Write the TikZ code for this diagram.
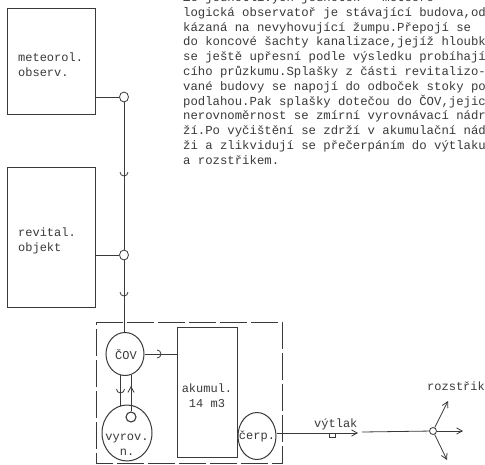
\documentclass[tikz,border=0pt]{standalone}
\usepackage{fontspec}
\setmonofont{Liberation Mono}
\usepackage{tikz}
\usetikzlibrary{arrows.meta,positioning,shapes.geometric,calc}
\definecolor{inkgray}{RGB}{58,58,58}
\begin{document}
\begin{tikzpicture}[
  x=1pt,y=-1pt,
  every node/.style={text=inkgray},
  pipe/.style={draw=inkgray,line width=0.8pt},
  room/.style={draw=inkgray,line width=1pt,minimum width=88pt,inner sep=0pt},
  lab/.style={font=\ttfamily\fontsize{12}{15}\selectfont,align=left,inner sep=0pt},
  manhole/.style={draw=inkgray,fill=white,line width=0.8pt,ellipse,inner sep=0pt,minimum width=9pt,minimum height=10pt},
  tank/.style={draw=inkgray,line width=1pt,ellipse,inner sep=0pt},
  arrow/.style={pipe,-{Straight Barb[length=2mm,width=2.2mm]}},
  cup/.pic={\draw[pipe] (-4,-3) arc[start angle=180,end angle=0,radius=4];}
]
\useasboundingbox (0,0) rectangle (485,464);
\fill[white] (0,0) rectangle (485,464);
% buildings
\node[room,minimum height=106pt,anchor=north west] (meteo) at (7,8) {};
\node[room,minimum height=140pt,anchor=north west] (revit) at (7,167) {};
\node[lab,anchor=west] at (18,65) {meteorol.\\observ.};
\node[lab,anchor=west] at (18,241) {revital.\\objekt};
\node[manhole] (mh1) at (124,97) {};
\node[manhole] (mh2) at (124,255) {};
% treatment plant
\draw[inkgray,line width=0.9pt,dash pattern=on 27pt off 4pt] (96,322) -- (282,322) -- (282,463) -- (96,463) -- cycle;
\node[draw=inkgray,line width=0.9pt,minimum width=60pt,minimum height=130pt,inner sep=0pt] (akum) at (207,392) {};
\node[lab,align=center] at (207,396) {akumul.\\14 m3};
\node[tank,minimum width=38pt,minimum height=43pt] (cov) at (125,354) {};
\node[lab] at (126,355) {ČOV};
\node[tank,minimum width=50pt,minimum height=56pt] (vyrov) at (127,433) {};
\node[lab,align=center] at (127,445) {vyrov.\\n.};
\node[tank,minimum width=38pt,minimum height=47pt] (cerp) at (257,436) {};
\node[lab] at (257,436) {čerp.};
\node[manhole,line width=1.1pt,minimum width=10pt] (float) at (131,417) {};
% field
\node[manhole,minimum width=7pt,minimum height=7pt] (spray) at (433,431) {};
\node[lab,anchor=base west] at (427,390) {rozstřik};
\node[lab,anchor=base west] at (314,427) {výtlak};
\node[lab,anchor=north west,font=\ttfamily\fontsize{12.3}{14.77}\selectfont] (note) at (183,-7.5) {Ze jednotlivých jednotek - meteoro-\\logická observatoř je stávající budova,od\\kázaná na nevyhovující žumpu.Přepojí se\\do koncové šachty kanalizace,jejíž hloubk\\se ještě upřesní podle výsledku probíhají\\cího průzkumu.Splašky z části revitalizo-\\vané budovy se napojí do odboček stoky po\\podlahou.Pak splašky dotečou do ČOV,jejic\\nerovnoměrnost se zmírní vyrovnávací nádr\\ží.Po vyčištění se zdrží v akumulační nád\\ži a zlikvidují se přečerpáním do výtlaku\\a rozstřikem.};
\coordinate (covtop) at (124,333);
\coordinate (outend) at (358,433);
\coordinate (linestart) at (362,432);
\coordinate (sprayup) at (448,401);
\coordinate (sprayright) at (463,431);
\coordinate (spraydown) at (447,460);
% connectors
\draw[pipe] (meteo.east |- mh1) -- (mh1);
\draw[pipe] (revit.east |- mh2) -- (mh2);
\draw[pipe] (mh1) -- (mh2);
\draw[pipe] (mh2) -- (covtop);
\draw[pipe] (cov.east) -- (akum.west |- cov.east);
\draw[pipe] (120.5,375) -- (120.5,406);
\draw[arrow] (float) -- (131,386);
\draw[pipe] (131,388) -- (131,375);
\draw[arrow] (cerp.east |- outend) -- (outend);
\draw[pipe] (linestart) -- (spray);
\draw[arrow] (spray) -- (sprayup);
\draw[arrow] (spray) -- (sprayright);
\draw[arrow] (spray) -- (spraydown);
% joints
\pic at (124,175) {cup};
\pic at (124,295) {cup};
\pic at (120.5,392) {cup};
\pic[rotate=90] at (160,354) {cup};
\draw[pipe] (329,433) -- (329,437) -- (335,437) -- (335,433);
\end{tikzpicture}
\end{document}
